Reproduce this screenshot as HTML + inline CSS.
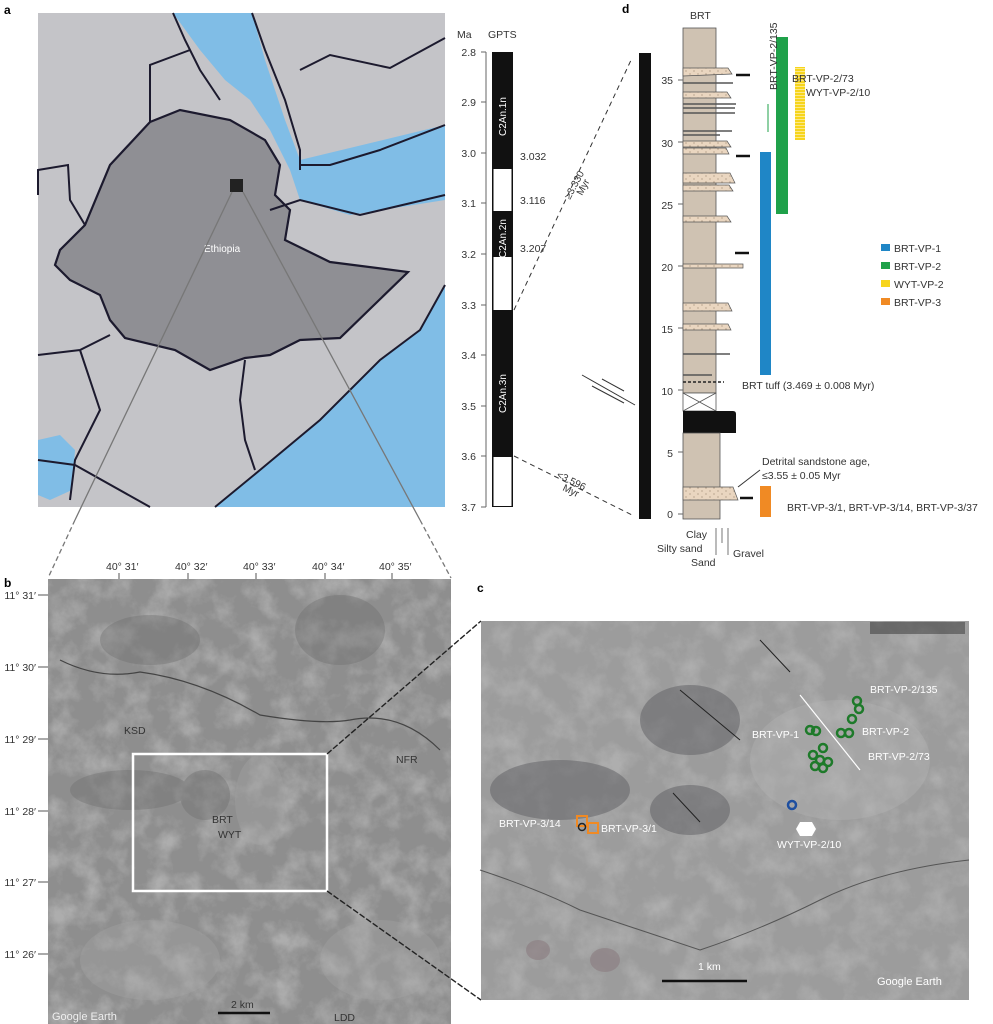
<!DOCTYPE html>
<html><head><meta charset="utf-8"><style>
body{margin:0;background:#fff}
svg{display:block;font-family:"Liberation Sans",sans-serif}
</style></head><body>
<svg width="993" height="1024" viewBox="0 0 993 1024" xmlns="http://www.w3.org/2000/svg">
<defs>
<pattern id="stripe" width="10" height="3" patternUnits="userSpaceOnUse"><rect width="10" height="3" fill="#f7d51d"/><rect y="2" width="10" height="1" fill="#fbe98a"/></pattern>
<pattern id="dots" width="8" height="6" patternUnits="userSpaceOnUse"><rect width="8" height="6" fill="#ead6c0"/><circle cx="2" cy="2" r="0.6" fill="#9a8670"/><circle cx="6" cy="5" r="0.6" fill="#9a8670"/></pattern>
<filter id="tex" x="0" y="0" width="100%" height="100%"><feTurbulence type="fractalNoise" baseFrequency="0.04" numOctaves="5" seed="3"/><feColorMatrix type="matrix" values="0 0 0 0 0.45  0 0 0 0 0.45  0 0 0 0 0.45  0 0 0 -2.2 1.3"/></filter>
</defs>

<!-- panel a map -->
<text x="4" y="14" font-size="12" font-weight="bold">a</text>
<rect x="38" y="13" width="407" height="494" fill="#c4c4c8"/>
<polygon points="173,13 252,13 265,60 285,120 300,160 445,125 445,200 350,215 300,200 290,170 270,130 250,100 225,80 200,50" fill="#80bde6"/>
<polygon points="445,285 420,330 380,360 320,420 260,470 215,507 445,507" fill="#80bde6"/>
<polygon points="38,440 60,435 75,450 72,490 50,500 38,495" fill="#80bde6"/>
<polygon points="150,122 180,110 230,120 265,140 280,165 275,195 290,210 285,240 330,262 408,272 340,338 300,340 270,355 245,358 210,370 175,350 125,338 110,320 100,295 70,280 55,265 60,250 85,225 110,165" fill="#8f8f94" stroke="#1c1a2e" stroke-width="2.2"/>
<g fill="none" stroke="#1c1a2e" stroke-width="2">
<path d="M173,13 L185,40 L200,70 L220,100"/><path d="M252,13 L265,50 L285,100 L300,150 L300,170"/>
<path d="M150,122 L150,65 L190,50"/><path d="M300,70 L330,55 L390,68 L445,38"/><path d="M300,165 L330,165 L380,150 L445,125"/>
<path d="M270,210 L300,200 L360,215 L445,195"/><path d="M38,195 L38,170 L68,165 L70,200 L85,225"/>
<path d="M38,355 L80,350 L110,335"/><path d="M80,350 L90,380 L100,410 L75,460 L70,500"/><path d="M38,460 L75,465 L150,507"/>
<path d="M245,360 L240,400 L245,440 L255,470"/><path d="M445,285 L420,330 L380,360 L320,420 L260,470 L215,507"/>
</g>
<rect x="230" y="179" width="13" height="13" fill="#222"/>
<text x="204" y="252" font-size="10" fill="#fff">Ethiopia</text>
<line x1="232" y1="192" x2="75" y2="520" stroke="#777" stroke-width="1.3"/>
<line x1="243" y1="192" x2="420" y2="520" stroke="#777" stroke-width="1.3"/>
<line x1="75" y1="520" x2="48" y2="578" stroke="#777" stroke-width="1.3" stroke-dasharray="5,3"/>
<line x1="420" y1="520" x2="451" y2="578" stroke="#777" stroke-width="1.3" stroke-dasharray="5,3"/>

<!-- GPTS -->
<g font-size="10.5" fill="#333">
<text x="457" y="38">Ma</text><text x="488" y="38">GPTS</text>
<line x1="486" y1="52" x2="486" y2="507" stroke="#666"/>
<g stroke="#666"><line x1="481" y1="52" x2="486" y2="52"/><line x1="481" y1="102" x2="486" y2="102"/><line x1="481" y1="153" x2="486" y2="153"/><line x1="481" y1="203" x2="486" y2="203"/><line x1="481" y1="254" x2="486" y2="254"/><line x1="481" y1="305" x2="486" y2="305"/><line x1="481" y1="355" x2="486" y2="355"/><line x1="481" y1="406" x2="486" y2="406"/><line x1="481" y1="456" x2="486" y2="456"/><line x1="481" y1="507" x2="486" y2="507"/></g>
<g text-anchor="end"><text x="476" y="56">2.8</text><text x="476" y="106">2.9</text><text x="476" y="157">3.0</text><text x="476" y="207">3.1</text><text x="476" y="258">3.2</text><text x="476" y="309">3.3</text><text x="476" y="359">3.4</text><text x="476" y="410">3.5</text><text x="476" y="460">3.6</text><text x="476" y="511">3.7</text></g>
<rect x="492" y="52" width="21" height="455" fill="#111"/>
<rect x="493.5" y="169" width="18" height="42" fill="#fff"/>
<rect x="493.5" y="257" width="18" height="53" fill="#fff"/>
<rect x="493.5" y="457" width="18" height="49" fill="#fff"/>
<text x="520" y="160">3.032</text><text x="520" y="204">3.116</text><text x="520" y="252">3.207</text>
<g fill="#fff" font-size="10"><text transform="translate(506,136) rotate(-90)">C2An.1n</text><text transform="translate(506,258) rotate(-90)">C2An.2n</text><text transform="translate(506,413) rotate(-90)">C2An.3n</text></g>
</g>
<rect x="639" y="53" width="12" height="466" fill="#111"/>
<line x1="514" y1="310" x2="632" y2="58" stroke="#333" stroke-dasharray="5,4"/>
<line x1="514" y1="456" x2="632" y2="515" stroke="#333" stroke-dasharray="5,4"/>
<g font-size="10" fill="#333"><text transform="translate(570,200) rotate(-62)">≥3.330</text><text transform="translate(582,196) rotate(-62)">Myr</text>
<text transform="translate(556,477) rotate(26)">&lt;3.596</text><text transform="translate(562,490) rotate(26)">Myr</text></g>
<line x1="582" y1="375" x2="635" y2="405" stroke="#333"/><line x1="592" y1="386" x2="624" y2="403" stroke="#333"/><line x1="602" y1="379" x2="624" y2="391" stroke="#333"/>

<!-- column d -->
<text x="622" y="13" font-size="12" font-weight="bold">d</text>
<text x="690" y="19" font-size="10.5" fill="#333">BRT</text>
<rect x="683" y="28" width="33" height="365" fill="#cfc2b2" stroke="#555" stroke-width="0.8"/>
<rect x="683" y="393" width="33" height="18" fill="#fff" stroke="#555" stroke-width="0.8"/>
<path d="M683,393 L716,411 M716,393 L683,411" stroke="#555" stroke-width="0.8"/>
<path d="M683,411 L733,411 Q736,411 736,414 L736,433 L683,433 Z" fill="#111"/>
<rect x="683" y="433" width="37" height="86" fill="#cfc2b2" stroke="#555" stroke-width="0.8"/>
<g fill="url(#dots)" stroke="#555" stroke-width="0.7">
<path d="M683,68 L728,68 L732,74 L683,76Z"/><path d="M683,92 L727,92 L731,98 L683,98Z"/>
<path d="M683,141 L727,141 L731,147 L683,147Z"/><path d="M683,148 L726,148 L729,154 L683,154Z"/>
<path d="M683,173 L730,173 L735,183 L683,183Z"/><path d="M683,185 L729,185 L733,191 L683,191Z"/>
<path d="M683,216 L727,216 L731,222 L683,222Z"/><path d="M683,303 L728,303 L732,311 L683,311Z"/>
<path d="M683,324 L728,324 L731,330 L683,330Z"/><path d="M683,487 L733,487 L738,500 L683,500Z"/>
<path d="M683,264 L743,264 L743,268 L683,268Z"/>
</g>
<g stroke="#555" stroke-width="1.5"><line x1="683" y1="83" x2="733" y2="83"/><line x1="683" y1="104" x2="736" y2="104"/><line x1="683" y1="108" x2="735" y2="108"/><line x1="683" y1="113" x2="735" y2="113"/><line x1="683" y1="131" x2="732" y2="131"/><line x1="683" y1="135" x2="720" y2="135"/><line x1="683" y1="354" x2="730" y2="354"/><line x1="683" y1="375" x2="712" y2="375"/><line x1="683" y1="382" x2="724" y2="382" stroke-dasharray="3,2" stroke="#222"/></g>
<g stroke="#111" stroke-width="2.5"><line x1="736" y1="75" x2="750" y2="75"/><line x1="736" y1="156" x2="750" y2="156"/><line x1="735" y1="253" x2="749" y2="253"/><line x1="740" y1="498" x2="753" y2="498"/></g>
<g font-size="10.5" fill="#333" text-anchor="end"><text x="673" y="84">35</text><text x="673" y="147">30</text><text x="673" y="209">25</text><text x="673" y="271">20</text><text x="673" y="333">15</text><text x="673" y="395">10</text><text x="673" y="457">5</text><text x="673" y="518">0</text></g>
<g stroke="#666"><line x1="678" y1="80" x2="683" y2="80"/><line x1="678" y1="142" x2="683" y2="142"/><line x1="678" y1="204" x2="683" y2="204"/><line x1="678" y1="266" x2="683" y2="266"/><line x1="678" y1="328" x2="683" y2="328"/><line x1="678" y1="390" x2="683" y2="390"/><line x1="678" y1="452" x2="683" y2="452"/><line x1="678" y1="514" x2="683" y2="514"/></g>
<g font-size="10.5" fill="#333"><text x="686" y="538">Clay</text><text x="657" y="552">Silty sand</text><text x="691" y="566">Sand</text><text x="733" y="557">Gravel</text></g>
<path d="M716,528 L716,555 M722,528 L722,543 M728,528 L728,555" stroke="#555" stroke-width="0.8"/>
<!-- bars -->
<rect x="760" y="152" width="11" height="223" fill="#1f86c6"/>
<rect x="776" y="37" width="12" height="177" fill="#1fa14a"/>
<rect x="795" y="67" width="10" height="73" fill="url(#stripe)"/>
<rect x="760" y="486" width="11" height="31" fill="#f08a24"/>
<line x1="768" y1="104" x2="768" y2="132" stroke="#1fa14a"/>
<text transform="translate(777,90) rotate(-90)" font-size="10.5" fill="#333">BRT-VP-2/135</text>
<g font-size="10.5" fill="#333"><text x="792" y="82">BRT-VP-2/73</text><text x="806" y="96">WYT-VP-2/10</text>
<text x="742" y="389">BRT tuff (3.469 ± 0.008 Myr)</text>
<text x="762" y="465">Detrital sandstone age,</text><text x="762" y="479">≤3.55 ± 0.05 Myr</text>
<text x="787" y="511">BRT-VP-3/1, BRT-VP-3/14, BRT-VP-3/37</text></g>
<line x1="760" y1="470" x2="738" y2="487" stroke="#333"/>
<g font-size="10.5" fill="#333"><rect x="881" y="244" width="9" height="7" fill="#1f86c6"/><text x="894" y="252">BRT-VP-1</text>
<rect x="881" y="262" width="9" height="7" fill="#1fa14a"/><text x="894" y="270">BRT-VP-2</text>
<rect x="881" y="280" width="9" height="7" fill="#f7d51d"/><text x="894" y="288">WYT-VP-2</text>
<rect x="881" y="298" width="9" height="7" fill="#f08a24"/><text x="894" y="306">BRT-VP-3</text></g>

<!-- panel b -->
<text x="4" y="587" font-size="12" font-weight="bold">b</text>
<rect x="48" y="579" width="403" height="445" fill="#8e8e8e"/>
<rect x="48" y="579" width="403" height="445" filter="url(#tex)" opacity="0.85"/>
<g fill="#6e6e6e" opacity="0.4"><ellipse cx="340" cy="630" rx="45" ry="35"/><ellipse cx="150" cy="640" rx="50" ry="25"/><ellipse cx="130" cy="790" rx="60" ry="20"/><ellipse cx="205" cy="795" rx="25" ry="25"/></g>
<g fill="#a6a6a6" opacity="0.35"><ellipse cx="260" cy="800" rx="25" ry="45"/><ellipse cx="380" cy="960" rx="60" ry="40"/><ellipse cx="150" cy="960" rx="70" ry="40"/></g>
<path d="M60,660 Q100,680 140,672 Q200,680 260,715 Q320,725 350,720 Q400,710 440,750" stroke="#444" fill="none" stroke-width="1.2"/>
<rect x="133" y="754" width="194" height="137" fill="none" stroke="#fff" stroke-width="2.5"/>
<g font-size="10.5" fill="#333"><text x="106" y="570">40° 31′</text><text x="175" y="570">40° 32′</text><text x="243" y="570">40° 33′</text><text x="312" y="570">40° 34′</text><text x="379" y="570">40° 35′</text>
<g text-anchor="end"><text x="36" y="599">11° 31′</text><text x="36" y="671">11° 30′</text><text x="36" y="743">11° 29′</text><text x="36" y="815">11° 28′</text><text x="36" y="886">11° 27′</text><text x="36" y="958">11° 26′</text></g>
<text x="124" y="734">KSD</text><text x="212" y="823">BRT</text><text x="218" y="838">WYT</text><text x="396" y="763">NFR</text><text x="334" y="1021">LDD</text><text x="231" y="1008">2 km</text></g>
<g stroke="#555"><line x1="38" y1="595" x2="48" y2="595"/><line x1="38" y1="667" x2="48" y2="667"/><line x1="38" y1="739" x2="48" y2="739"/><line x1="38" y1="811" x2="48" y2="811"/><line x1="38" y1="882" x2="48" y2="882"/><line x1="38" y1="954" x2="48" y2="954"/>
<line x1="119" y1="573" x2="119" y2="579"/><line x1="188" y1="573" x2="188" y2="579"/><line x1="256" y1="573" x2="256" y2="579"/><line x1="325" y1="573" x2="325" y2="579"/><line x1="392" y1="573" x2="392" y2="579"/></g>
<line x1="218" y1="1013" x2="270" y2="1013" stroke="#111" stroke-width="2.5"/>
<text x="52" y="1020" font-size="11" fill="#eee">Google Earth</text>
<line x1="327" y1="754" x2="481" y2="621" stroke="#222" stroke-width="1.4" stroke-dasharray="6,2"/>
<line x1="327" y1="891" x2="481" y2="1000" stroke="#222" stroke-width="1.4" stroke-dasharray="6,2"/>

<!-- panel c -->
<text x="477" y="592" font-size="12" font-weight="bold">c</text>
<rect x="481" y="621" width="488" height="379" fill="#9c9c9c"/>
<rect x="481" y="621" width="488" height="379" filter="url(#tex)" opacity="0.8"/>
<g fill="#5e5e62" opacity="0.5"><ellipse cx="690" cy="720" rx="50" ry="35"/><ellipse cx="560" cy="790" rx="70" ry="30"/><ellipse cx="690" cy="810" rx="40" ry="25"/></g>
<g fill="#b4b4b4" opacity="0.4"><ellipse cx="840" cy="760" rx="90" ry="60"/></g>
<g fill="#8b7c80" opacity="0.6"><ellipse cx="605" cy="960" rx="15" ry="12"/><ellipse cx="538" cy="950" rx="12" ry="10"/></g>
<g fill="#333" opacity="0.5"><rect x="870" y="622" width="95" height="12"/></g>
<path d="M480,870 Q540,890 580,910 Q640,930 700,950 Q760,930 820,900 Q880,870 969,860" stroke="#555" fill="none"/>
<line x1="680" y1="690" x2="740" y2="740" stroke="#222"/><line x1="673" y1="793" x2="700" y2="822" stroke="#222"/><line x1="760" y1="640" x2="790" y2="672" stroke="#222"/>
<line x1="800" y1="695" x2="860" y2="770" stroke="#fff" stroke-width="1.2"/>
<g fill="none" stroke="#1e7a2a" stroke-width="2.5"><circle cx="857" cy="701" r="4"/><circle cx="859" cy="709" r="4"/><circle cx="852" cy="719" r="4"/><circle cx="841" cy="733" r="4"/><circle cx="849" cy="733" r="4"/><circle cx="810" cy="730" r="4"/><circle cx="816" cy="731" r="4"/><circle cx="823" cy="748" r="4"/><circle cx="813" cy="755" r="4"/><circle cx="820" cy="760" r="4"/><circle cx="828" cy="762" r="4"/><circle cx="815" cy="766" r="4"/><circle cx="823" cy="768" r="4"/></g>
<circle cx="792" cy="805" r="4" fill="none" stroke="#1e4fa0" stroke-width="2.5"/>
<polygon points="800,822 812,822 816,829 812,836 800,836 796,829" fill="#fff"/>
<rect x="577" y="816" width="10" height="10" fill="none" stroke="#f08a24" stroke-width="2"/><rect x="588" y="823" width="10" height="10" fill="none" stroke="#f08a24" stroke-width="2"/>
<circle cx="582" cy="827" r="3.5" fill="none" stroke="#222" stroke-width="1.5"/>
<g font-size="10.5" fill="#fff"><text x="870" y="693">BRT-VP-2/135</text><text x="862" y="735">BRT-VP-2</text><text x="868" y="760">BRT-VP-2/73</text><text x="752" y="738">BRT-VP-1</text><text x="499" y="827">BRT-VP-3/14</text><text x="601" y="832">BRT-VP-3/1</text><text x="777" y="848">WYT-VP-2/10</text><text x="698" y="970">1 km</text><text x="877" y="985" font-size="11">Google Earth</text></g>
<line x1="662" y1="981" x2="747" y2="981" stroke="#111" stroke-width="2.5"/>
</svg>
</body></html>
